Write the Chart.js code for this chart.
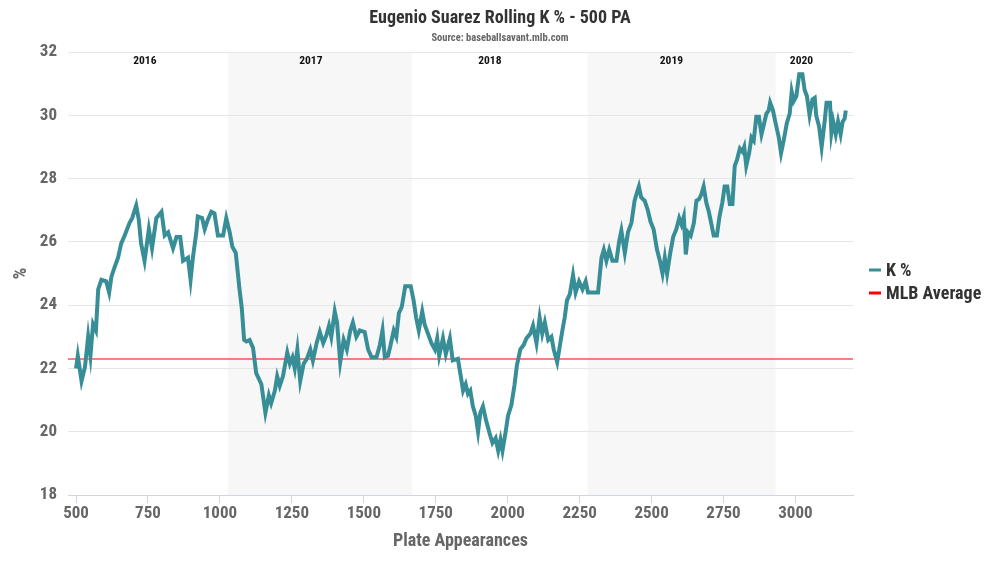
<!DOCTYPE html>
<html>
<head>
<meta charset="utf-8">
<style>
html,body{margin:0;padding:0;background:#fff;}
#wrap{position:relative;width:1000px;height:563px;}
</style>
<script src="https://cdn.jsdelivr.net/npm/chart.js@4.4.0/dist/chart.umd.min.js"></script>
</head>
<body>
<div id="wrap"><canvas id="c"></canvas></div>
<script>
const chartTitle = "Eugenio Suarez Rolling K % - 500 PA";
const chartSubtitle = "Source: baseballsavant.mlb.com";
const seriesNames = ["K %", "MLB Average"];
const seriesColors = ["#388e96", "#ff0000"];

const paX = [500,506,519,531,542,550,559,569,577,588,605,615,623,634,646,657,669,686,695,709,718,726,738,753,764,779,797,808,820,837,849,862,872,889,898,906,918,923,938,947,958,970,981,993,1011,1022,1034,1043,1055,1068,1076,1084,1092,1103,1115,1126,1144,1158,1170,1178,1191,1199,1208,1219,1234,1243,1252,1260,1269,1279,1291,1302,1314,1323,1336,1347,1359,1370,1379,1387,1399,1407,1418,1430,1441,1453,1462,1474,1486,1503,1515,1527,1544,1556,1565,1573,1584,1592,1604,1613,1622,1632,1644,1663,1673,1682,1691,1703,1711,1723,1735,1747,1755,1762,1775,1785,1799,1809,1827,1837,1845,1854,1862,1870,1879,1889,1897,1905,1914,1925,1937,1947,1958,1967,1975,1982,1993,2001,2013,2024,2032,2044,2056,2065,2079,2088,2100,2111,2120,2129,2141,2152,2160,2172,2181,2190,2198,2206,2216,2227,2236,2248,2260,2271,2279,2314,2326,2334,2343,2353,2364,2378,2387,2395,2407,2418,2430,2441,2449,2456,2464,2476,2487,2496,2507,2519,2529,2538,2546,2554,2565,2575,2586,2596,2604,2612,2619,2627,2636,2647,2656,2665,2673,2681,2690,2699,2707,2716,2727,2736,2746,2754,2763,2772,2781,2789,2797,2807,2816,2822,2829,2839,2847,2855,2864,2873,2882,2890,2899,2907,2912,2922,2931,2942,2950,2959,2970,2980,2987,2994,3003,3013,3024,3032,3040,3049,3059,3067,3072,3082,3091,3102,3108,3120,3125,3131,3140,3148,3157,3164,3171,3175];

const kPct = [22.0,22.4,21.6,22.05,23.0,22.4,23.4,23.2,24.5,24.8,24.75,24.4,24.9,25.2,25.5,25.95,26.2,26.6,26.75,27.15,26.7,25.95,25.4,26.4,25.8,26.75,26.95,26.2,26.3,25.8,26.15,26.15,25.4,25.5,24.8,25.5,26.3,26.8,26.75,26.4,26.7,26.95,26.9,26.2,26.2,26.75,26.3,25.85,25.65,24.5,23.9,22.9,22.85,22.9,22.65,21.85,21.5,20.6,21.15,20.9,21.3,21.75,21.45,21.75,22.5,22.15,22.35,22.0,22.6,21.6,22.15,22.3,22.6,22.25,22.8,23.15,22.8,23.05,23.35,23.0,23.8,23.45,22.2,22.9,22.6,23.2,23.45,23.0,23.2,23.15,22.6,22.35,22.35,22.75,23.2,22.35,22.4,22.7,23.2,23.0,23.75,23.95,24.6,24.6,24.15,23.6,23.2,23.8,23.4,23.1,22.8,22.6,22.95,22.4,22.95,22.45,22.95,22.25,22.3,21.75,21.3,21.5,21.2,21.3,20.8,20.5,20.0,20.6,20.8,20.35,19.95,19.65,19.8,19.4,19.75,19.4,20.0,20.5,20.85,21.5,22.1,22.6,22.75,22.95,23.1,23.35,22.8,23.6,23.1,23.45,22.9,23.0,22.6,22.2,22.7,23.2,23.6,24.15,24.35,24.95,24.4,24.75,24.5,24.75,24.4,24.4,25.5,25.75,25.4,25.75,25.4,25.4,26.0,26.35,25.65,26.3,26.6,27.3,27.55,27.75,27.4,27.3,27.0,26.65,26.4,25.75,25.4,25.0,25.5,25.0,25.65,26.15,26.4,26.75,26.55,26.8,25.6,26.3,26.2,26.6,27.3,27.35,27.5,27.75,27.25,26.95,26.6,26.2,26.2,26.8,27.25,27.75,27.75,27.2,27.2,28.4,28.6,28.95,28.85,29.0,28.4,28.8,29.3,29.2,29.95,29.95,29.4,29.7,30.05,30.15,30.4,30.15,29.75,29.3,28.8,29.2,29.75,30.05,30.75,30.45,30.6,31.3,31.3,30.8,30.6,30.0,30.5,30.55,30.0,29.65,29.0,29.85,30.4,30.4,29.45,29.8,29.4,29.8,29.4,29.8,29.9,30.15];

const mlbAvgX = [472, 3200];
const mlbAvgY = [22.3, 22.3];

const yearNames = ["2016","2017","2018","2019","2020"];
const yearLabelX = [739, 1316, 1938, 2569, 3021];
const bandStart = [1028, 2278];
const bandEnd = [1667, 2931];

const xTicks = [500,750,1000,1250,1500,1750,2000,2250,2500,2750,3000];
const yTicks = [18,20,22,24,26,28,30,32];

const FONT = "'Liberation Sans Narrow','Roboto Condensed','DejaVu Sans Condensed',sans-serif";

const decor = {
  id: 'decor',
  beforeDraw(chart) {
    const {ctx, chartArea: a, scales: {x}} = chart;
    ctx.save();
    ctx.fillStyle = '#f7f7f7';
    for (let i = 0; i < bandStart.length; i++) {
      const x0 = x.getPixelForValue(bandStart[i]);
      const x1 = x.getPixelForValue(bandEnd[i]);
      ctx.fillRect(x0, a.top, x1 - x0, a.bottom - a.top);
    }
    ctx.restore();
  },
  afterDraw(chart) {
    const {ctx, chartArea: a, scales: {x}} = chart;
    ctx.save();
    ctx.textAlign = 'center';
    ctx.textBaseline = 'middle';
    ctx.fillStyle = '#333333';
    ctx.font = "bold 18px " + FONT;
    ctx.fillText(chartTitle, 500, 18);
    ctx.fillStyle = '#666666';
    ctx.font = "bold 10.5px " + FONT;
    ctx.fillText(chartSubtitle, 500, 38);
    ctx.fillStyle = '#111111';
    ctx.font = "bold 11.5px " + FONT;
    for (let i = 0; i < yearNames.length; i++) {
      ctx.fillText(yearNames[i], x.getPixelForValue(yearLabelX[i]), 61);
    }
    const ly = [270, 293];
    ctx.textAlign = 'left';
    ctx.font = "bold 18px " + FONT;
    chart.data.datasets.forEach((ds, i) => {
      ctx.fillStyle = seriesColors[i];
      ctx.fillRect(869, ly[i] - 1.5, 12, 3);
      ctx.fillStyle = '#333333';
      ctx.fillText(ds.label, 886, ly[i] + 1);
    });
    ctx.restore();
  }
};

new Chart(document.getElementById('c'), {
  type: 'line',
  data: {
    datasets: [
      {
        label: seriesNames[0],
        data: paX.map((v, i) => ({x: v, y: kPct[i]})),
        borderColor: seriesColors[0],
        borderWidth: 4,
        pointRadius: 0,
        tension: 0,
        fill: false
      },
      {
        label: seriesNames[1],
        data: mlbAvgX.map((v, i) => ({x: v, y: mlbAvgY[i]})),
        borderColor: 'rgba(255,0,0,0.5)',
        borderWidth: 2,
        pointRadius: 0,
        tension: 0,
        fill: false
      }
    ]
  },
  options: {
    responsive: true,
    maintainAspectRatio: false,
    animation: false,
    events: [],
    layout: {padding: {top: 52, right: 147, left: 0, bottom: 0}},
    plugins: {legend: {display: false}, title: {display: false}, tooltip: {enabled: false}},
    scales: {
      x: {
        type: 'linear',
        min: 472,
        max: 3200,
        afterFit(s) { s.height = 68; },
        afterBuildTicks(s) { s.ticks = xTicks.map(v => ({value: v})); },
        ticks: {
          color: '#666666',
          font: {family: FONT, size: 17, weight: 'bold'},
          padding: 1,
          maxRotation: 0,
          autoSkip: false,
          callback: v => String(v)
        },
        grid: {display: true, drawOnChartArea: false, drawTicks: true, tickLength: 8, color: '#ccd6eb'},
        border: {display: true, color: '#ccd6eb', width: 1},
        title: {
          display: true,
          text: 'Plate Appearances',
          color: '#666666',
          font: {family: FONT, size: 18, weight: 'bold'},
          padding: {top: 0, bottom: 11}
        }
      },
      y: {
        min: 18,
        max: 32,
        afterFit(s) { s.width = 68; },
        afterBuildTicks(s) { s.ticks = yTicks.map(v => ({value: v})); },
        ticks: {
          color: '#666666',
          font: {family: FONT, size: 17, weight: 'bold'},
          padding: 11,
          callback: v => String(v)
        },
        grid: {display: true, drawTicks: false, color: '#e6e6e6', lineWidth: 1},
        border: {display: false},
        title: {
          display: true,
          text: '%',
          color: '#666666',
          font: {family: FONT, size: 18, weight: 'bold'},
          padding: {top: 11, bottom: 0}
        }
      }
    }
  },
  plugins: [decor]
});
</script>
</body>
</html>
